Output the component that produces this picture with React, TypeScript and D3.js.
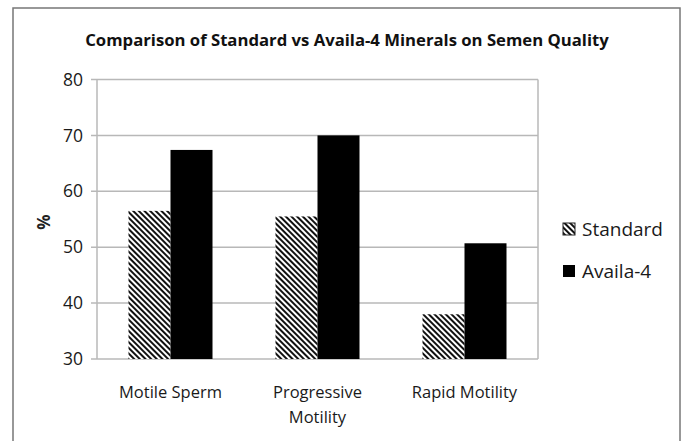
import React, { useEffect, useRef } from 'react'
import { scaleBand, scaleLinear, select, axisLeft } from 'd3'

// values
const categories = ['Motile Sperm', 'Progressive Motility', 'Rapid Motility']
const categoryLines = [['Motile Sperm'], ['Progressive', 'Motility'], ['Rapid Motility']]
const seriesNames = ['Standard', 'Availa-4']
const standardValues = [56.5, 55.5, 38]
const availaValues = [67.4, 70, 50.7]
const yTicks = [30, 40, 50, 60, 70, 80]

const App = () => {
    const chartRef = useRef<SVGSVGElement>(null)

    useEffect(() => {
        const width = 686
        const height = 441
        const plot = { left: 97, right: 538, top: 79.5, bottom: 359 }
        const font = "'Open Sans', 'Liberation Sans', sans-serif"

        const svg = select(chartRef.current)
        svg.selectAll('*').remove()

        const defs = svg.append('defs')
        const pat = defs.append('pattern')
            .attr('id', 'hatch')
            .attr('patternUnits', 'userSpaceOnUse')
            .attr('width', 4)
            .attr('height', 4)
            .attr('patternTransform', 'rotate(-45)')
        pat.append('rect').attr('width', 4).attr('height', 4).attr('fill', '#fff')
        pat.append('rect').attr('x', 0).attr('width', 2).attr('height', 4).attr('fill', '#111')

        svg.append('rect')
            .attr('width', width).attr('height', height).attr('fill', '#fff')

        // outer chart border
        svg.append('rect')
            .attr('x', 13).attr('y', 8)
            .attr('width', 667).attr('height', 450)
            .attr('fill', 'none').attr('stroke', '#777').attr('stroke-width', 1.5)

        const x = scaleBand()
            .domain(categories)
            .range([plot.left, plot.right])
            .paddingInner(0)
            .paddingOuter(0)

        const y = scaleLinear()
            .domain([30, 80])
            .range([plot.bottom, plot.top])

        // grid
        svg.append('g')
            .selectAll('line')
            .data(yTicks)
            .enter()
            .append('line')
            .attr('x1', plot.left - 6)
            .attr('x2', plot.right)
            .attr('y1', d => y(d))
            .attr('y2', d => y(d))
            .attr('stroke', '#b8b8b8')
            .attr('stroke-width', 1.5)

        svg.append('line')
            .attr('x1', plot.left).attr('x2', plot.left)
            .attr('y1', plot.top).attr('y2', plot.bottom)
            .attr('stroke', '#b8b8b8').attr('stroke-width', 1.5)
        svg.append('line')
            .attr('x1', plot.right).attr('x2', plot.right)
            .attr('y1', plot.top).attr('y2', plot.bottom)
            .attr('stroke', '#b8b8b8').attr('stroke-width', 1.5)

        const gap = 1.5
        const barW = x.bandwidth() / (2 + gap)
        const groupOffset = (x.bandwidth() - 2 * barW) / 2

        const series = [
            { name: seriesNames[0], values: standardValues, fill: 'url(#hatch)' },
            { name: seriesNames[1], values: availaValues, fill: '#000' },
        ]

        series.forEach((s, si) => {
            svg.append('g')
                .selectAll('rect')
                .data(s.values)
                .enter()
                .append('rect')
                .attr('x', (_, i) => (x(categories[i]) || 0) + groupOffset + si * barW)
                .attr('y', d => y(d))
                .attr('width', barW)
                .attr('height', d => plot.bottom - y(d))
                .attr('fill', s.fill)
        })

        // y axis labels
        const yAxis = svg.append('g')
            .attr('transform', `translate(${plot.left - 10}, 0)`)
            .call(axisLeft(y).tickValues(yTicks).tickSize(0).tickPadding(4))
        yAxis.select('.domain').remove()
        yAxis.selectAll('text')
            .attr('font-family', font)
            .attr('font-size', 17.5)
            .attr('fill', '#1a1a1a')

        // y axis title
        svg.append('text')
            .attr('transform', `translate(50, 222) rotate(-90)`)
            .attr('text-anchor', 'middle')
            .attr('font-family', font)
            .attr('font-weight', 'bold')
            .attr('font-size', 17)
            .attr('fill', '#222')
            .text('%')

        // x category labels
        categoryLines.forEach((lines, i) => {
            const cx = (x(categories[i]) || 0) + x.bandwidth() / 2
            lines.forEach((line, li) => {
                svg.append('text')
                    .attr('x', cx)
                    .attr('y', 398 + li * 25)
                    .attr('text-anchor', 'middle')
                    .attr('font-family', font)
                    .attr('font-size', 16.5)
                    .attr('fill', '#1a1a1a')
                    .text(line)
            })
        })

        // title
        svg.append('text')
            .attr('x', 347)
            .attr('y', 46)
            .attr('text-anchor', 'middle')
            .attr('font-family', font)
            .attr('font-weight', 'bold')
            .attr('font-size', 16.7)
            .attr('fill', '#111')
            .text('Comparison of Standard vs Availa-4 Minerals on Semen Quality')

        // legend
        const legend = svg.append('g').attr('transform', 'translate(563, 223)')
        series.forEach((s, i) => {
            const row = legend.append('g').attr('transform', `translate(0, ${i * 42})`)
            row.append('rect')
                .attr('width', 12).attr('height', 12)
                .attr('fill', s.fill)
                .attr('stroke', i === 0 ? '#222' : 'none')
            row.append('text')
                .attr('x', 19)
                .attr('y', 13)
                .attr('font-family', font)
                .attr('font-size', 19)
                .attr('fill', '#1a1a1a')
                .text(s.name)
        })
    }, [chartRef])

    return (
        <svg ref={chartRef} width={686} height={441}
            style={{ position: 'absolute', left: 0, top: 0, display: 'block' }} />
    )
}

export default App
